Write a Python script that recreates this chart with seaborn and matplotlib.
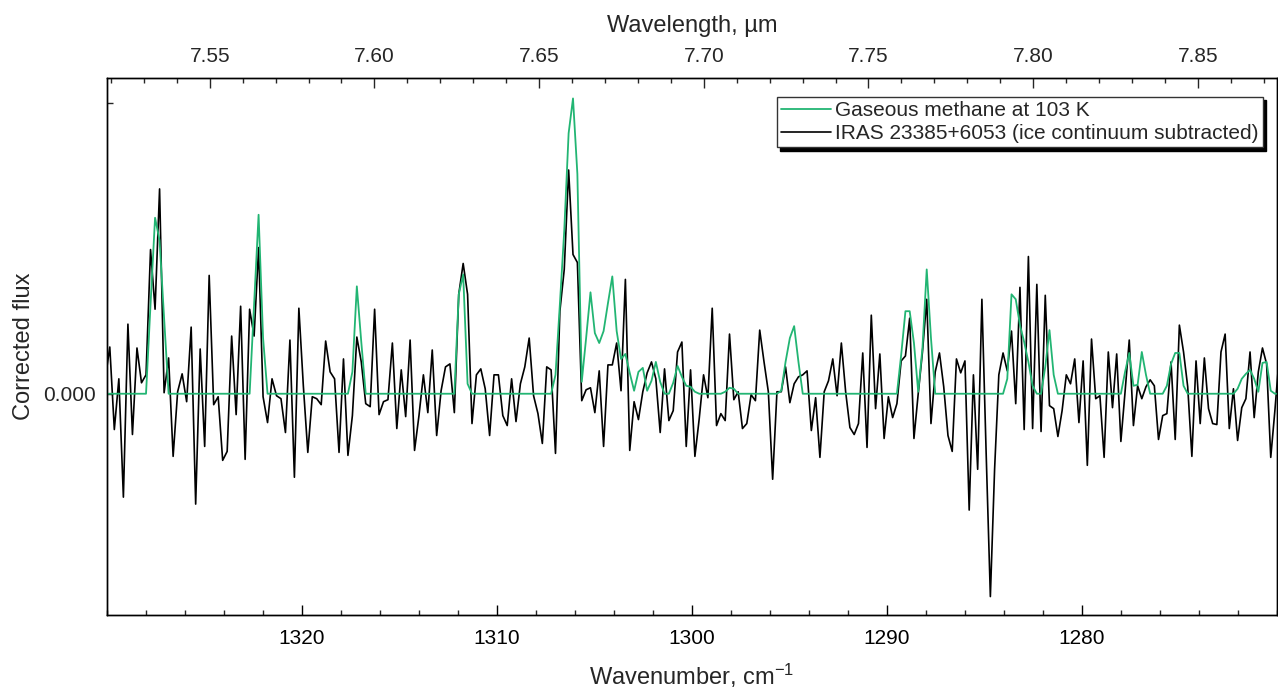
import matplotlib
matplotlib.use("Agg")
import matplotlib.pyplot as plt
from matplotlib.ticker import FixedLocator, FormatStrFormatter, MultipleLocator
import numpy as np
import pandas as pd
import seaborn as sns

# spectrum sampled on a uniform wavelength grid (um)
WL_START = 7.5183
WL_STEP = 0.001315

# IRAS 23385+6053, ice continuum subtracted (arbitrary units)
FLUX_OBS = [
    0.15, 0.47, -0.36, 0.15, -1.04, 0.70, -0.41, 0.46, 0.11, 0.19,
    1.45, 0.85, 2.06, 0.01, 0.36, -0.63, 0.02, 0.20, -0.08, 0.67,
    -1.11, 0.45, -0.53, 1.19, -0.11, -0.03, -0.67, -0.58, 0.58, -0.21,
    0.88, -0.66, 0.85, 0.58, 1.47, -0.03, -0.29, 0.15, -0.02, -0.05,
    -0.39, 0.54, -0.84, 0.86, 0.08, -0.59, -0.03, -0.05, -0.11, 0.53,
    0.22, 0.15, -0.59, 0.35, -0.62, -0.22, 0.57, 0.32, -0.10, -0.13,
    0.85, -0.21, -0.08, -0.06, 0.51, -0.35, 0.24, -0.23, 0.54, -0.57,
    -0.22, 0.19, -0.19, 0.44, -0.42, 0.03, 0.27, 0.30, -0.19, 1.00,
    1.31, 1.00, -0.30, 0.19, 0.25, 0.05, -0.42, 0.19, 0.19, -0.22,
    -0.32, 0.15, -0.28, 0.10, 0.27, 0.56, -0.02, -0.20, -0.50, 0.27,
    0.24, -0.60, 0.83, 1.25, 2.25, 1.40, 1.32, -0.07, 0.04, 0.06,
    -0.19, 0.23, -0.53, 0.29, 0.29, 0.51, 0.03, 1.15, -0.57, -0.08,
    -0.26, 0.02, 0.21, 0.32, 0.15, -0.39, 0.25, -0.27, -0.17, 0.42,
    0.52, -0.53, 0.24, -0.63, -0.25, 0.19, -0.04, 0.86, -0.32, -0.20,
    -0.27, 0.60, -0.06, 0.02, -0.35, -0.30, -0.01, -0.07, 0.64, 0.32,
    0.02, -0.86, 0.02, 0.02, 0.27, -0.09, 0.10, 0.17, 0.19, 0.23,
    -0.37, -0.04, -0.64, 0.02, 0.13, 0.35, -0.02, 0.51, 0.02, -0.34,
    -0.41, -0.30, 0.41, -0.54, 0.79, -0.15, 0.40, -0.45, -0.03, -0.24,
    -0.10, 0.33, 0.38, 0.76, -0.45, 0.00, 0.42, 0.95, -0.30, 0.22,
    0.41, 0.07, -0.42, -0.58, 0.35, 0.21, 0.33, -1.17, 0.19, -0.76,
    0.95, -0.59, -2.04, -0.76, 0.19, 0.41, 0.23, 0.63, -0.10, 1.07,
    -0.36, 1.38, -0.35, 1.10, -0.38, 0.99, -0.12, -0.15, -0.43, -0.17,
    0.19, 0.10, 0.35, -0.29, 0.33, -0.72, 0.55, -0.05, -0.02, -0.64,
    0.42, -0.14, 0.40, -0.48, 0.02, 0.54, -0.32, 0.08, -0.05, 0.07,
    0.14, 0.08, -0.46, -0.22, -0.20, 0.32, -0.46, 0.69, 0.42, 0.07,
    -0.63, 0.33, -0.30, 0.36, -0.15, -0.30, -0.31, 0.42, 0.60, -0.35,
    0.05, -0.47, -0.14, -0.05, 0.42, -0.24, 0.22, 0.46, 0.30, -0.64,
    -0.17, 0.35,
]

# gaseous CH4 model at 103 K, same grid
FLUX_CH4 = [
    0, 0, 0, 0, 0, 0, 0, 0, 0, 0,
    0.90, 1.77, 1.54, 0.76, 0, 0, 0, 0, 0, 0,
    0, 0, 0, 0, 0, 0, 0, 0, 0, 0,
    0, 0, 0, 0.90, 1.80, 0.56, 0, 0, 0, 0,
    0, 0, 0, 0, 0, 0, 0, 0, 0, 0,
    0, 0, 0, 0, 0, 0.22, 1.08, 0.52, 0, 0,
    0, 0, 0, 0, 0, 0, 0, 0, 0, 0,
    0, 0, 0, 0, 0, 0, 0, 0, 0, 1.00,
    1.20, 0.10, 0, 0, 0, 0, 0, 0, 0, 0,
    0, 0, 0, 0, 0, 0, 0, 0, 0, 0,
    0, 0.19, 0.90, 1.64, 2.62, 2.97, 2.21, 0.12, 0.56, 1.02,
    0.61, 0.51, 0.63, 0.91, 1.18, 0.63, 0.35, 0.40, 0.21, 0.03,
    0.22, 0.26, 0.03, 0.13, 0.32, 0.12, 0, 0, 0.11, 0.28,
    0.17, 0.08, 0.07, 0.02, 0, 0, 0, 0, 0, 0,
    0.02, 0.06, 0.05, 0, 0, 0, 0, 0, 0, 0,
    0, 0, 0, 0.03, 0.32, 0.56, 0.68, 0.32, 0, 0,
    0, 0, 0, 0, 0, 0, 0, 0, 0, 0,
    0, 0, 0, 0, 0, 0, 0, 0, 0, 0,
    0, 0.39, 0.83, 0.83, 0.51, 0.02, 0.46, 1.25, 0.56, 0,
    0, 0, 0, 0, 0, 0, 0, 0, 0, 0,
    0, 0, 0, 0, 0, 0, 0.15, 1.00, 0.95, 0.69,
    0.52, 0.32, 0.08, 0, 0, 0.27, 0.64, 0.19, 0, 0,
    0, 0, 0, 0, 0, 0, 0, 0, 0, 0,
    0, 0, 0, 0, 0.22, 0.41, 0.08, 0.09, 0.42, 0.19,
    0, 0, 0, 0, 0.08, 0.30, 0.41, 0.41, 0.08, 0,
    0, 0, 0, 0, 0, 0, 0, 0, 0, 0,
    0, 0.05, 0.15, 0.20, 0.24, 0.15, 0.02, 0.31, 0.32, 0.03,
    0, 0,
]

NU_LEFT, NU_RIGHT = 1330.0, 1270.0
BOTTOM_TICKS = [1320, 1310, 1300, 1290, 1280]
TOP_TICKS = [7.55, 7.60, 7.65, 7.70, 7.75, 7.80, 7.85]
Y_TICKS = [0.0, 2.92]
Y_TICKLABELS = ["0.000", ""]
Y_LIM = (-2.23, 3.18)

LABEL_CH4 = "Gaseous methane at 103 K"
LABEL_OBS = "IRAS 23385+6053 (ice continuum subtracted)"
GREEN = "#22b573"

sns.set_style("ticks")
plt.rcParams["font.family"] = ["Liberation Sans", "DejaVu Sans"]
plt.rcParams["mathtext.fontset"] = "custom"
plt.rcParams["mathtext.rm"] = "Liberation Sans"
plt.rcParams["mathtext.it"] = "Liberation Sans:italic"
plt.rcParams["axes.edgecolor"] = "black"
plt.rcParams["axes.linewidth"] = 1.0

wl = WL_START + WL_STEP * np.arange(len(FLUX_OBS))
df = pd.DataFrame({"wavenumber": 1e4 / wl, "obs": FLUX_OBS, "ch4": FLUX_CH4})

fig = plt.figure(figsize=(12.78, 6.91), dpi=100)
ax = fig.add_axes([0.0837, 0.1093, 0.9155, 0.7785])

sns.lineplot(data=df, x="wavenumber", y="obs", color="black", linewidth=1.2,
             estimator=None, ax=ax, label=LABEL_OBS, zorder=2)
sns.lineplot(data=df, x="wavenumber", y="ch4", color=GREEN, linewidth=1.3,
             estimator=None, ax=ax, label=LABEL_CH4, zorder=3)

ax.set_xlim(NU_LEFT, NU_RIGHT)
ax.set_ylim(*Y_LIM)
ax.xaxis.set_major_locator(FixedLocator(BOTTOM_TICKS))
ax.xaxis.set_minor_locator(MultipleLocator(2))
ax.set_yticks(Y_TICKS)
ax.set_yticklabels(Y_TICKLABELS)
ax.tick_params(axis="x", which="major", direction="in", length=7, width=1,
               labelsize=15, pad=10, colors="black")
ax.tick_params(axis="x", which="minor", direction="in", length=3.5, width=1)
ax.tick_params(axis="y", which="major", direction="in", length=4, width=1,
               labelsize=15, pad=8)
ax.set_xlabel(r"Wavenumber, cm$^{-1}$", fontsize=17, labelpad=10)
ax.set_ylabel("Corrected flux", fontsize=17, labelpad=6)

ax2 = ax.twiny()
ax2.set_xlim(1e4 / NU_LEFT, 1e4 / NU_RIGHT)
ax2.xaxis.set_major_locator(FixedLocator(TOP_TICKS))
ax2.xaxis.set_minor_locator(MultipleLocator(0.01))
ax2.xaxis.set_major_formatter(FormatStrFormatter("%.2f"))
ax2.tick_params(axis="x", which="major", direction="in", length=7, width=1,
                labelsize=15, pad=8)
ax2.tick_params(axis="x", which="minor", direction="in", length=3.5, width=1)
ax2.set_xlabel("Wavelength, \u00b5m", fontsize=17, labelpad=11)

handles, labels = ax.get_legend_handles_labels()
order = [labels.index(LABEL_CH4), labels.index(LABEL_OBS)]
ax.legend([handles[i] for i in order], [labels[i] for i in order],
          loc="upper right", bbox_to_anchor=(0.988, 0.964), borderaxespad=0,
          fontsize=15, frameon=True, fancybox=False, edgecolor="#333333",
          framealpha=1, borderpad=0.2, handlelength=2.4, handletextpad=0.2,
          labelspacing=0.2,
          shadow={"ox": 2.5, "oy": -2.5, "color": "black", "alpha": 1})
ax.get_legend().get_frame().set_linewidth(1.0)

fig.savefig("out.png", dpi=100)
